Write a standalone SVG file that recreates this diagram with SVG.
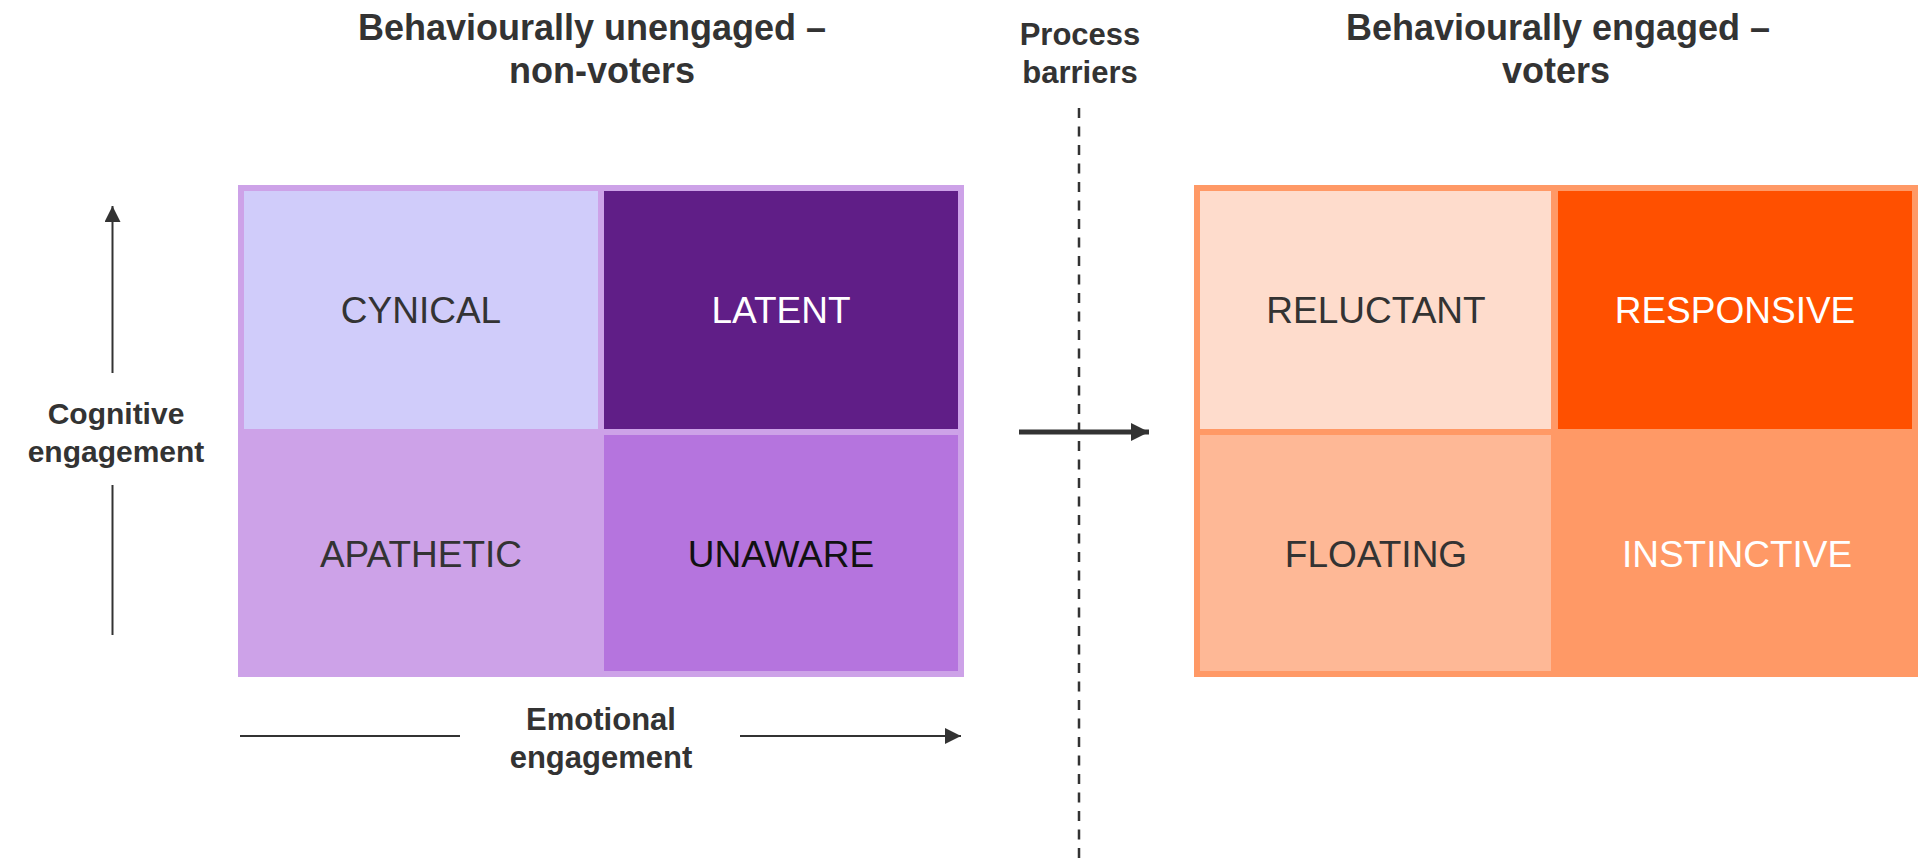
<svg xmlns="http://www.w3.org/2000/svg" width="1924" height="862" viewBox="0 0 1924 862">
  <style>
    .head { font-family: "Liberation Sans", Arial, sans-serif; font-weight: bold; font-size: 36px; fill: #333333; text-anchor: middle; }
    .axis { font-family: "Liberation Sans", Arial, sans-serif; font-weight: bold; font-size: 30px; fill: #333333; text-anchor: middle; }
    .cell { font-family: "Liberation Sans", Arial, sans-serif; font-size: 37px; text-anchor: middle; }
    .dark { fill: #333333; }
    .black { fill: #111111; }
    .light { fill: #ffffff; }
    .conn { stroke: #333333; fill: none; }
  </style>
  <defs>
    <marker id="tipSmall" viewBox="0 0 16 16" refX="16" refY="8" markerWidth="16" markerHeight="16" markerUnits="userSpaceOnUse" orient="auto">
      <path d="M0,0 L16,8 L0,16 Z" fill="#333333"/>
    </marker>
    <marker id="tipLarge" viewBox="0 0 18 18" refX="18" refY="9" markerWidth="18" markerHeight="18" markerUnits="userSpaceOnUse" orient="auto">
      <path d="M0,0 L18,9 L0,18 Z" fill="#333333"/>
    </marker>
  </defs>

  <!-- headings -->
  <g id="heading-non-voters">
    <text class="head" x="592" y="40">Behaviourally unengaged –</text>
    <text class="head" x="602" y="83">non-voters</text>
  </g>
  <g id="heading-barriers">
    <text class="axis" style="font-size:31px" x="1080" y="45">Process</text>
    <text class="axis" style="font-size:31px" x="1080" y="83">barriers</text>
  </g>
  <g id="heading-voters">
    <text class="head" x="1558" y="40">Behaviourally engaged –</text>
    <text class="head" x="1556" y="83">voters</text>
  </g>

  <!-- non-voter quadrant -->
  <g id="panel-non-voters">
    <rect x="238" y="185" width="726" height="492" fill="#cda2e8"/>
  </g>
  <g id="cynical">
    <rect x="244" y="191" width="354" height="238" fill="#d0ccfa"/>
    <text class="cell dark" x="421" y="323">CYNICAL</text>
  </g>
  <g id="latent">
    <rect x="604" y="191" width="354" height="238" fill="#601e87"/>
    <text class="cell light" x="781" y="323">LATENT</text>
  </g>
  <g id="apathetic">
    <text class="cell dark" x="421" y="567">APATHETIC</text>
  </g>
  <g id="unaware">
    <rect x="604" y="435" width="354" height="236" fill="#b574de"/>
    <text class="cell black" x="781" y="567">UNAWARE</text>
  </g>

  <!-- voter quadrant -->
  <g id="panel-voters">
    <rect x="1194" y="185" width="724" height="492" fill="#ff9966"/>
  </g>
  <g id="reluctant">
    <rect x="1200" y="191" width="351" height="238" fill="#fedccc"/>
    <text class="cell dark" x="1376" y="323">RELUCTANT</text>
  </g>
  <g id="responsive">
    <rect x="1558" y="191" width="354" height="238" fill="#ff5000"/>
    <text class="cell light" x="1735" y="323">RESPONSIVE</text>
  </g>
  <g id="floating">
    <rect x="1200" y="435" width="351" height="236" fill="#feb896"/>
    <text class="cell dark" x="1376" y="567">FLOATING</text>
  </g>
  <g id="instinctive">
    <text class="cell light" x="1737" y="567">INSTINCTIVE</text>
  </g>

  <!-- axis labels -->
  <g id="label-cognitive">
    <text class="axis" x="116" y="424">Cognitive</text>
    <text class="axis" x="116" y="462">engagement</text>
  </g>
  <g id="label-emotional">
    <text class="axis" style="font-size:31px" x="601" y="730">Emotional</text>
    <text class="axis" style="font-size:31px" x="601" y="768">engagement</text>
  </g>

  <!-- connectors -->
  <g id="connectors">
    <line class="conn" x1="112.5" y1="635" x2="112.5" y2="485" stroke-width="2"/>
    <line class="conn" x1="112.5" y1="373" x2="112.5" y2="206" stroke-width="2" marker-end="url(#tipSmall)"/>
    <line class="conn" x1="240" y1="736" x2="460" y2="736" stroke-width="2"/>
    <line class="conn" x1="740" y1="736" x2="961" y2="736" stroke-width="2" marker-end="url(#tipSmall)"/>
    <line class="conn" x1="1079" y1="108" x2="1079" y2="862" stroke-width="2.5" stroke-dasharray="10 8.5"/>
    <line class="conn" x1="1019" y1="432" x2="1149" y2="432" stroke-width="5" marker-end="url(#tipLarge)"/>
  </g>
</svg>
